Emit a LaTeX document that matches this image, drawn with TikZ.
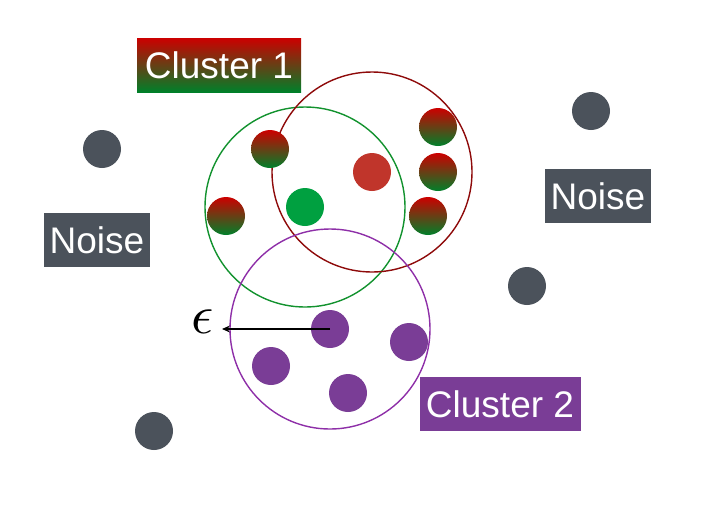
\documentclass[tikz,border=0pt]{standalone}
\usepackage{fontspec}
\setmainfont{Liberation Sans}
\usetikzlibrary{arrows.meta}
\definecolor{noisegray}{HTML}{4B525B}
\definecolor{clpurple}{HTML}{7A3D96}
\definecolor{clred}{HTML}{C0352B}
\definecolor{clgreen}{HTML}{00A040}
\definecolor{gtop}{HTML}{CC0000}
\definecolor{gbot}{HTML}{00802A}
\definecolor{ringgreen}{HTML}{12922E}
\definecolor{ringred}{HTML}{8E0A0A}
\definecolor{ringpurple}{HTML}{8E2FA8}
\tikzset{
  lbl/.style={inner sep=0pt, minimum width=#1, minimum height=54pt, text=white,
    font=\fontsize{37}{42}\selectfont},
  dot/.style={circle, minimum size=38pt, inner sep=0pt},
  graydot/.style={dot, fill=noisegray},
  graddot/.style={dot, top color=gtop, bottom color=gbot, middle color=gtop!50!gbot},
  purpdot/.style={dot, fill=clpurple},
  ring/.style={line width=1.4pt}
}
\begin{document}
\begin{tikzpicture}[x=1pt,y=-1pt]
\useasboundingbox (0,0) rectangle (708,507);
% rings
\draw[ring, ringgreen] (305,207) circle (100);
\draw[ring, ringred] (372,172) circle (100);
\draw[ring, ringpurple] (330,329) circle (100);
% labels
\node[lbl=164pt, top color=gtop, bottom color=gbot, middle color=gtop!50!gbot] (c1) at (219,65) {Cluster 1};
\node[lbl=106pt, fill=noisegray] (n1) at (97,240) {Noise};
\node[lbl=106pt, fill=noisegray] (n2) at (598,196) {Noise};
\node[lbl=161pt, fill=clpurple] (c2) at (500,404) {Cluster 2};
% noise dots
\node[graydot] (g1) at (102,149) {};
\node[graydot] (g2) at (591,111) {};
\node[graydot] (g3) at (527,286) {};
\node[graydot] (g4) at (154,431) {};
% cluster 1 dots
\node[graddot] (a1) at (270,149) {};
\node[graddot] (a2) at (226,216) {};
\node[graddot] (a3) at (438,127) {};
\node[graddot] (a4) at (438,172) {};
\node[graddot] (a5) at (428,216) {};
\node[dot, fill=clred] (r1) at (372,172) {};
\node[dot, fill=clgreen] (gr1) at (305,207) {};
% cluster 2 dots
\node[purpdot] (p1) at (330,329) {};
\node[purpdot] (p2) at (271,366) {};
\node[purpdot] (p3) at (409,342) {};
\node[purpdot] (p4) at (348,393) {};
% epsilon arrow
\coordinate (e) at (222,329);
\draw[-{Stealth[length=8pt,width=7pt]}, line width=1.2pt] (p1.center) -- (e);
\node[inner sep=0pt] (eps) at (203,322) {\scalebox{5.5}{$\epsilon$}};
\end{tikzpicture}
\end{document}
